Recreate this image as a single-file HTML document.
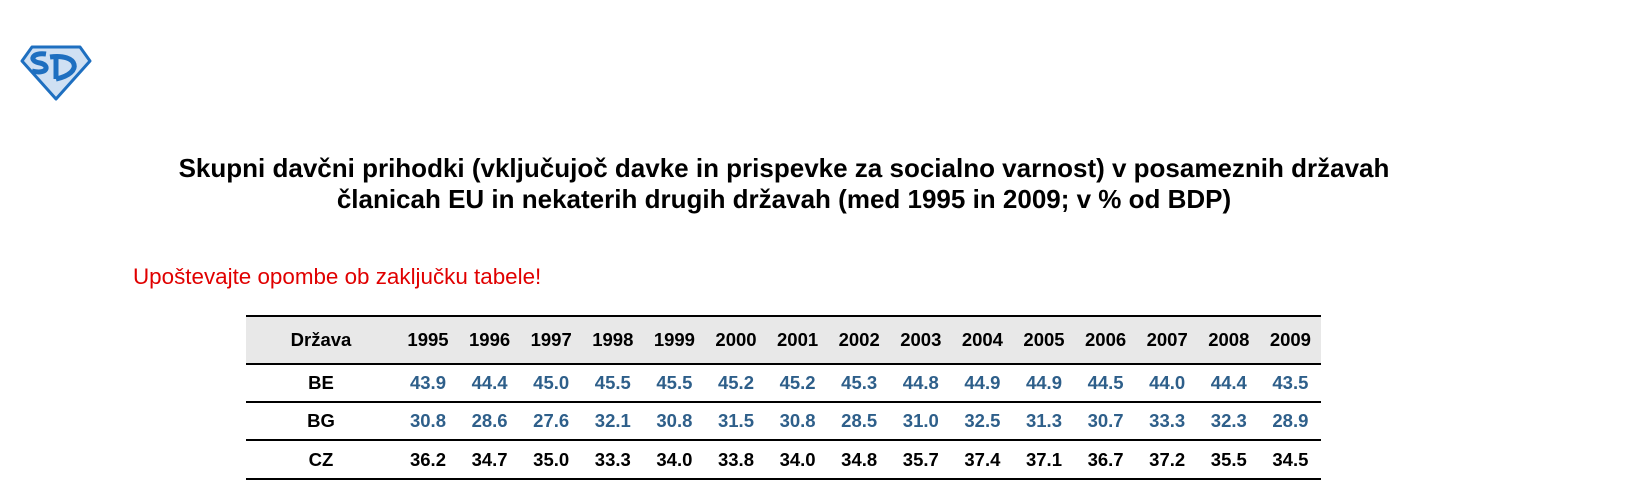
<!DOCTYPE html>
<html><head><meta charset="utf-8"><style>
body{margin:0;width:1637px;height:503px;background:#fff;position:relative;overflow:hidden;font-family:"Liberation Sans",Arial,sans-serif}
.t{position:absolute;left:0;width:1568px;text-align:center;font-weight:bold;font-size:26px;line-height:30px;color:#000}
.red{position:absolute;left:133px;top:264px;font-size:22.4px;color:#e00000}
.c{position:absolute;width:60px;text-align:center;font-size:18.5px;font-weight:bold}
.l{position:absolute;left:246px;width:1075px;height:2px;background:#000}
</style></head><body>
<svg style="position:absolute;left:20px;top:45px" width="72" height="56" viewBox="0 0 72 56">
<polygon points="12,2 60,2 70,16 36,54 2,16" fill="#cfe0f3" stroke="#1e6fc0" stroke-width="3" stroke-linejoin="round"/>
<path d="M26,9 C12,7 8,16 20,18 C30,20 28,30 12,26" fill="none" stroke="#1e6fc0" stroke-width="5"/>
<path d="M36,10 L36,34 M30,12 C58,8 64,28 36,34" fill="none" stroke="#1e6fc0" stroke-width="5"/>
</svg>
<div class="t" style="top:153px">Skupni davčni prihodki (vključujoč davke in prispevke za socialno varnost) v posameznih državah</div>
<div class="t" style="top:184px">članicah EU in nekaterih drugih državah (med 1995 in 2009; v % od BDP)</div>
<div class="red">Upoštevajte opombe ob zaključku tabele!</div>
<div style="position:absolute;left:246px;top:317px;width:1075px;height:47px;background:#e8e8e8"></div>
<div class="l" style="top:315px"></div>
<div class="l" style="top:363px"></div>
<div class="l" style="top:401px"></div>
<div class="l" style="top:439px"></div>
<div class="l" style="top:478px"></div>
<div id="g"></div>
<script>
var rows=[["BE","#2e5f8a",[43.9,44.4,45.0,45.5,45.5,45.2,45.2,45.3,44.8,44.9,44.9,44.5,44.0,44.4,43.5]],
["BG","#2e5f8a",[30.8,28.6,27.6,32.1,30.8,31.5,30.8,28.5,31.0,32.5,31.3,30.7,33.3,32.3,28.9]],
["CZ","#000",[36.2,34.7,35.0,33.3,34.0,33.8,34.0,34.8,35.7,37.4,37.1,36.7,37.2,35.5,34.5]]];
var h="";function cell(x,y,t,col){h+='<div class="c" style="left:'+(x-30)+'px;top:'+y+'px;color:'+col+'">'+t+'</div>';}
h+='<div class="c" style="left:271px;width:100px;top:329px">Država</div>';
for(var i=0;i<15;i++)cell(428+i*61.6,329,1995+i,"#000");
var ys=[372,410,449];
rows.forEach(function(r,k){cell(321,ys[k],r[0],"#000");r[2].forEach(function(v,i){cell(428+i*61.6,ys[k],v.toFixed(1),r[1]);});});
document.getElementById("g").innerHTML=h;
</script>
</body></html>
